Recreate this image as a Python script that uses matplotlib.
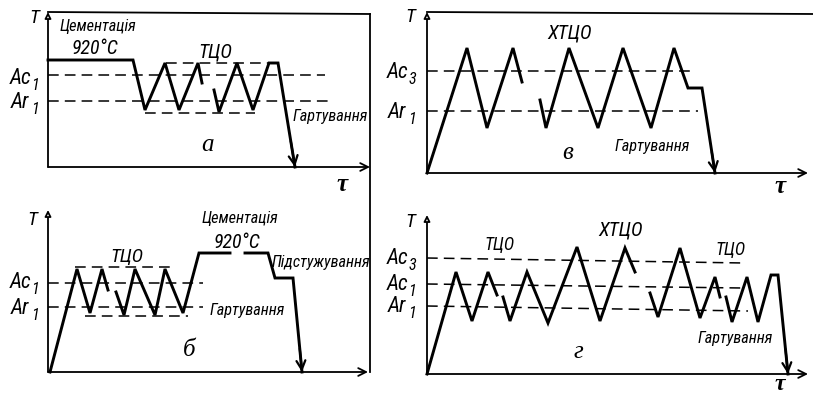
import matplotlib
matplotlib.use("Agg")
import matplotlib.pyplot as plt
from matplotlib import font_manager as fm

W, H = 813, 395

# pick the narrowest available sans family for the technical lettering
_names = {f.name for f in fm.fontManager.ttflist}
NARROW_FAMILY = "DejaVu Sans"
for cand in ["Liberation Sans Narrow", "Roboto Condensed", "DejaVu Sans Condensed",
             "Open Sans Condensed", "Noto Sans Condensed", "Roboto", "Liberation Sans"]:
    if cand in _names:
        NARROW_FAMILY = cand
        break
NARROW = [NARROW_FAMILY, "DejaVu Sans"]
SERIF = ["Liberation Serif", "DejaVu Serif"]

# ---------------- data (time, temperature in arbitrary schematic units) ----------------
# Panel a
a_seg1_t = [0, 85, 97, 117, 131, 150, 154]
a_seg1_T = [107, 107, 57, 104, 57, 104, 84]
a_seg2_t = [166, 171, 189, 205, 221, 230, 247]
a_seg2_T = [77, 55, 104, 57, 104, 104, 0]
a_Ac1 = 92
a_Ar1 = 66
a_top = 104
a_bot = 54

# Panel б
b_seg1_t = [2, 29, 42, 54, 60]
b_seg1_T = [0, 103, 59, 103, 82]
b_seg2_t = [68, 76, 87, 107, 117, 135, 151, 182]
b_seg2_T = [80, 57, 103, 57, 103, 59, 119, 119]
b_seg3_t = [197, 220, 227, 245, 254]
b_seg3_T = [119, 119, 94, 94, 0]
b_Ac1 = 89
b_Ar1 = 65
b_top = 105
b_bot = 56

# Panel в
v_seg1_t = [0, 40, 60, 86, 95]
v_seg1_T = [0, 125, 45, 125, 91]
v_seg2_t = [113, 119, 142, 171, 196, 224, 247, 261, 275, 288]
v_seg2_T = [73, 45, 125, 45, 125, 45, 125, 85, 85, 0]
v_Ac3 = 102
v_Ar1 = 62

# Panel г
g_seg1_t = [0, 29, 45, 61, 70]
g_seg1_T = [0, 102, 53, 102, 79]
g_seg2_t = [76, 83, 100, 121, 150, 173, 198, 208]
g_seg2_T = [77, 53, 102, 51, 127, 53, 126, 102]
g_seg3_t = [223, 231, 253, 273, 288, 293]
g_seg3_T = [81, 57, 126, 56, 97, 77]
g_seg4_t = [299, 305, 320, 331, 344, 351, 361]
g_seg4_T = [77, 52, 97, 52, 99, 99, 0]
g_Ac3 = [116, 111]
g_Ac1 = [90, 86]
g_Ar1 = [68, 63]

LW = 2.1
AXLW = 1.3
DASH = (0, (7, 4))

fig = plt.figure(figsize=(W / 100, H / 100), dpi=100)
fig.patch.set_facecolor("white")
renderer = fig.canvas.get_renderer()


def make_ax(left, top, right, bottom):
    ax = fig.add_axes([left / W, 1 - bottom / H, (right - left) / W, (bottom - top) / H])
    ax.set_xlim(0, right - left)
    ax.set_ylim(0, bottom - top)
    ax.axis("off")
    return ax


def axes_arrows(ax, xend, yend):
    ax.annotate("", xy=(0, yend), xytext=(0, 0),
                arrowprops=dict(arrowstyle="-|>", lw=AXLW, color="black",
                                mutation_scale=9, shrinkA=0, shrinkB=0,
                                fc="white"), annotation_clip=False)
    ax.annotate("", xy=(xend, 0), xytext=(0, 0),
                arrowprops=dict(arrowstyle="->", lw=AXLW, color="black",
                                mutation_scale=14, shrinkA=0, shrinkB=0),
                annotation_clip=False)


def profile(ax, t, T, arrow=False):
    ax.plot(t, T, color="black", lw=LW, solid_joinstyle="miter", clip_on=False)
    if arrow:
        x0, y0 = t[-2], T[-2]
        x1, y1 = t[-1], T[-1]
        ax.annotate("", xy=(x1, y1),
                    xytext=(x1 - 0.25 * (x1 - x0), y1 - 0.25 * (y1 - y0)),
                    arrowprops=dict(arrowstyle="->", lw=1.6, color="black",
                                    mutation_scale=16, shrinkA=0, shrinkB=0),
                    annotation_clip=False)


def dashed(ax, t0, t1, T0, T1=None):
    if T1 is None:
        T1 = T0
    ax.plot([t0, t1], [T0, T1], color="black", lw=1.1, linestyle=DASH, clip_on=False)


def label(x, y, s, size=13, family=NARROW, style="italic", weight="normal", width=None):
    t = fig.text(x / W, 1 - y / H, s, fontsize=size, family=family, style=style,
                 weight=weight, ha="center", va="center")
    if width is not None:
        w = t.get_window_extent(renderer).width
        if w > 0:
            t.set_fontsize(max(size * 0.9, min(size * 1.1, size * width / w)))
    return t


def sublabel(x, y, main, sub, size=15.5):
    label(x, y, main, size=size)
    label(x + 15, y + 7, sub, size=size * 0.75)


# ---------------- Panel a ----------------
ax = make_ax(48, 12, 370, 167)
axes_arrows(ax, 322, 155)
ax.plot([0, 322], [155, 153], color="black", lw=AXLW, clip_on=False)
ax.plot([322, 322], [153, -205], color="black", lw=AXLW, clip_on=False)
dashed(ax, 0, 277, a_Ac1)
dashed(ax, 0, 282, a_Ar1)
dashed(ax, 118, 220, a_top)
dashed(ax, 97, 207, a_bot)
profile(ax, a_seg1_t, a_seg1_T)
profile(ax, a_seg2_t, a_seg2_T, arrow=True)

label(34, 18, "T", size=14)
label(98, 26, "Цементація", width=68)
label(95, 49, "920°C", width=56)
label(215, 52, "ТЦО", width=36)
sublabel(20, 78, "Ac", "1")
sublabel(20, 102, "Ar", "1")
label(330, 117, "Гартування", width=69)
label(207, 145, "а", size=18, family=SERIF)
label(342, 184, "τ", size=18, family=SERIF, weight="bold")

# ---------------- Panel в ----------------
ax = make_ax(427, 12, 813, 173)
axes_arrows(ax, 381, 161)
ax.plot([0, 386], [161, 159], color="black", lw=AXLW, clip_on=False)
dashed(ax, 0, 268, v_Ac3)
dashed(ax, 0, 271, v_Ar1)
profile(ax, v_seg1_t, v_seg1_T)
profile(ax, v_seg2_t, v_seg2_T, arrow=True)

label(410, 17, "T", size=14)
sublabel(397, 72, "Ac", "3")
sublabel(397, 112, "Ar", "1")
label(570, 33, "ХТЦО", width=50)
label(568, 153, "в", size=18, family=SERIF)
label(652, 147, "Гартування", width=69)
label(780, 186, "τ", size=18, family=SERIF, weight="bold")

# ---------------- Panel б ----------------
ax = make_ax(48, 210, 370, 372)
axes_arrows(ax, 320, 162)
dashed(ax, 0, 155, b_Ac1)
dashed(ax, 0, 155, b_Ar1)
dashed(ax, 27, 127, b_top)
dashed(ax, 37, 140, b_bot)
profile(ax, b_seg1_t, b_seg1_T)
profile(ax, b_seg2_t, b_seg2_T)
profile(ax, b_seg3_t, b_seg3_T, arrow=True)

label(32, 220, "T", size=14)
label(127, 257, "ТЦО", width=33)
label(240, 219, "Цементація", width=74)
label(237, 243, "920°C", width=53)
label(321, 262, "Підстужування", width=91)
label(247, 310, "Гартування", width=67)
sublabel(20, 283, "Ac", "1")
sublabel(20, 308, "Ar", "1")
label(189, 350, "б", size=18, family=SERIF)

# ---------------- Panel г ----------------
ax = make_ax(427, 215, 813, 374)
axes_arrows(ax, 381, 159)
dashed(ax, 0, 317, g_Ac3[0], g_Ac3[1])
dashed(ax, 0, 315, g_Ac1[0], g_Ac1[1])
dashed(ax, 0, 321, g_Ar1[0], g_Ar1[1])
profile(ax, g_seg1_t, g_seg1_T)
profile(ax, g_seg2_t, g_seg2_T)
profile(ax, g_seg3_t, g_seg3_T)
profile(ax, g_seg4_t, g_seg4_T, arrow=True)

label(410, 222, "T", size=14)
sublabel(397, 258, "Ac", "3")
sublabel(397, 284, "Ac", "1")
sublabel(397, 307, "Ar", "1")
label(500, 245, "ТЦО", width=30)
label(621, 230, "ХТЦО", width=48)
label(731, 250, "ТЦО", width=30)
label(735, 338, "Гартування", width=68)
label(578, 352, "г", size=18, family=SERIF)
label(780, 385, "τ", size=17, family=SERIF, weight="bold")

fig.savefig("out.png", dpi=100, facecolor="white")
